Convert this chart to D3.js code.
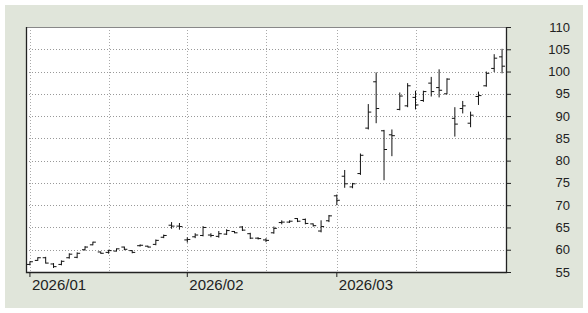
<!DOCTYPE html>
<html>
<head>
<meta charset="utf-8">
<script src="https://cdn.jsdelivr.net/npm/d3@7"></script>
<style>
  body { margin: 0; background: #fff; }
  text { font-family: "Liberation Sans", Arial, sans-serif; fill: #222; }
</style>
</head>
<body>
<svg></svg>
<script>
var WIDTH = 588;
var HEIGHT = 313;

// trading days
var dates = [
  '2026-01-02','2026-01-05','2026-01-06','2026-01-07','2026-01-08','2026-01-09',
  '2026-01-12','2026-01-13','2026-01-14','2026-01-15','2026-01-16',
  '2026-01-20','2026-01-21','2026-01-22','2026-01-23',
  '2026-01-26','2026-01-27','2026-01-28','2026-01-29','2026-01-30',
  '2026-02-02','2026-02-03','2026-02-04','2026-02-05','2026-02-06',
  '2026-02-09','2026-02-10','2026-02-11','2026-02-12','2026-02-13',
  '2026-02-17','2026-02-18','2026-02-19','2026-02-20',
  '2026-02-23','2026-02-24','2026-02-25','2026-02-26','2026-02-27',
  '2026-03-02','2026-03-03','2026-03-04','2026-03-05','2026-03-06',
  '2026-03-09','2026-03-10','2026-03-11','2026-03-12','2026-03-13',
  '2026-03-16','2026-03-17','2026-03-18','2026-03-19','2026-03-20',
  '2026-03-23','2026-03-24','2026-03-25','2026-03-26','2026-03-27',
  '2026-03-30','2026-03-31'
];

var open = [56.7, 57.6, 58.2, 56.8, 56.7, 58.2, 58.3, 60.0, 61.1, 59.5, 59.4, 59.7, 60.6, 59.8, 60.9, 60.8, 61.2, 62.8, 65.5, 65.3,
  62.2, 62.9, 63.2, 63.3, 63.0, 63.5, 64.1, 65.1, 63.6, 62.6, 62.2, 63.8, 66.1, 66.2, 67.0, 66.8, 65.8, 64.2, 66.5,
  72.1, 76.5, 74.1, 77.1, 87.3, 97.7, 86.7, 85.8, 91.5, 92.3, 94.2, 93.5, 97.4, 96.4, 95.0, 89.5, 91.7, 88.4, 94.4, 96.8, 100.7, 103.3];
var high = [57.4, 58.3, 58.4, 57.0, 57.6, 59.2, 59.4, 60.8, 61.8, 59.6, 60.0, 60.3, 60.7, 59.9, 61.2, 60.9, 62.3, 63.4, 66.2, 66.0,
  62.8, 63.7, 65.3, 63.7, 64.2, 64.6, 64.2, 65.3, 63.8, 62.8, 62.6, 65.2, 66.6, 66.6, 67.1, 67.0, 65.9, 66.6, 67.8,
  72.4, 77.9, 75.0, 81.6, 92.7, 99.8, 86.9, 87.0, 95.3, 97.4, 95.7, 95.7, 98.8, 100.5, 98.5, 92.0, 93.4, 91.0, 95.5, 100.0, 103.9, 105.1];
var low = [56.5, 57.5, 56.9, 55.9, 56.5, 58.0, 58.1, 59.8, 61.0, 59.1, 59.1, 59.6, 59.9, 59.2, 60.7, 60.5, 61.0, 62.6, 64.7, 64.5,
  61.6, 62.6, 63.0, 62.8, 62.7, 63.3, 63.7, 64.2, 62.4, 62.3, 61.7, 63.6, 65.7, 66.0, 66.2, 65.7, 65.2, 63.9, 66.2,
  70.0, 73.9, 73.8, 76.8, 87.0, 88.4, 75.6, 81.0, 91.3, 92.0, 91.5, 93.2, 94.4, 94.2, 94.9, 85.4, 90.6, 87.5, 92.5, 96.6, 99.9, 99.6];
var close = [57.3, 58.2, 57.0, 56.2, 57.4, 59.0, 59.2, 60.6, 61.7, 59.2, 59.8, 60.2, 60.1, 59.4, 61.0, 60.6, 62.1, 63.2, 65.3, 65.2,
  62.3, 63.3, 65.0, 63.2, 63.6, 64.3, 63.8, 64.4, 62.6, 62.5, 62.1, 64.8, 66.2, 66.4, 66.4, 65.9, 65.4, 65.2, 67.6,
  71.1, 74.8, 74.8, 81.2, 90.9, 91.7, 82.5, 85.6, 94.5, 96.8, 92.5, 95.5, 95.5, 95.8, 98.3, 88.2, 92.3, 90.2, 94.6, 99.6, 103.0, 101.2];

var monthTicks = ['2026-01-02', '2026-02-02', '2026-03-02'];
var monthLabels = ['2026/01', '2026/02', '2026/03'];
var midTicks = ['2026-01-16', '2026-02-17', '2026-03-16'];
var yTicks = [55, 60, 65, 70, 75, 80, 85, 90, 95, 100, 105, 110];

var pLeft = 26, pRight = 506, pTop = 27, pBottom = 272;

var svg = d3.select('svg')
  .attr('width', WIDTH)
  .attr('height', HEIGHT);

svg.append('rect')
  .attr('x', 5).attr('y', 5)
  .attr('width', WIDTH - 10).attr('height', HEIGHT - 10)
  .attr('fill', '#e0e5da');

svg.append('rect')
  .attr('x', pLeft).attr('y', pTop)
  .attr('width', pRight - pLeft).attr('height', pBottom - pTop)
  .attr('fill', '#fff');

var xScale = d3.scaleBand().domain(dates).range([pLeft, pRight]);
var yScale = d3.scaleLinear().domain([55, 110]).range([pBottom, pTop]);
var cx = function(d){ return xScale(d) + xScale.bandwidth() / 2; };

// grid
svg.append('g').selectAll('line')
  .data(yTicks.slice(1, -1))
  .enter().append('line')
  .attr('x1', pLeft).attr('x2', pRight)
  .attr('y1', function(d){ return Math.round(yScale(d)) + 0.5; })
  .attr('y2', function(d){ return Math.round(yScale(d)) + 0.5; })
  .attr('stroke', '#999')
  .attr('stroke-dasharray', '1,2');

svg.append('g').selectAll('line')
  .data(monthTicks.concat(midTicks))
  .enter().append('line')
  .attr('x1', function(d){ return Math.round(cx(d)) + 0.5; })
  .attr('x2', function(d){ return Math.round(cx(d)) + 0.5; })
  .attr('y1', pTop).attr('y2', pBottom)
  .attr('stroke', '#aaa')
  .attr('stroke-dasharray', '1,2');

// frame
svg.append('line')
  .attr('x1', pLeft).attr('x2', pRight).attr('y1', pTop + 0.5).attr('y2', pTop + 0.5)
  .attr('stroke', '#888');
svg.append('path')
  .attr('d', 'M' + (pLeft + 0.5) + ',' + pTop + 'V' + (pBottom + 0.5) + 'H' + (pRight + 0.5) + 'V' + pTop)
  .attr('fill', 'none')
  .attr('stroke', '#222')
  .attr('stroke-width', 1.3);

// OHLC bars
var idx = d3.range(dates.length);
var bars = svg.append('g').attr('stroke', '#111').attr('stroke-width', 1);

bars.selectAll('.hl').data(idx).enter().append('line')
  .attr('x1', function(i){ return cx(dates[i]); })
  .attr('x2', function(i){ return cx(dates[i]); })
  .attr('y1', function(i){ return yScale(high[i]); })
  .attr('y2', function(i){ return yScale(low[i]); });

bars.selectAll('.op').data(idx).enter().append('line')
  .attr('x1', function(i){ return cx(dates[i]) - 3; })
  .attr('x2', function(i){ return cx(dates[i]); })
  .attr('y1', function(i){ return yScale(open[i]); })
  .attr('y2', function(i){ return yScale(open[i]); });

bars.selectAll('.cl').data(idx).enter().append('line')
  .attr('x1', function(i){ return cx(dates[i]); })
  .attr('x2', function(i){ return cx(dates[i]) + 3; })
  .attr('y1', function(i){ return yScale(close[i]); })
  .attr('y2', function(i){ return yScale(close[i]); });

// right axis
var rightAxis = d3.axisRight(yScale).tickValues(yTicks).tickSize(5).tickFormat('');
var ra = svg.append('g')
  .attr('transform', 'translate(' + pRight + ',0)')
  .call(rightAxis);
ra.select('.domain').remove();
ra.selectAll('line').attr('stroke', '#222');

svg.append('g').selectAll('text')
  .data(yTicks)
  .enter().append('text')
  .attr('x', 570)
  .attr('y', function(d){ return yScale(d); })
  .attr('dy', '0.35em')
  .attr('text-anchor', 'end')
  .style('font-size', '13px')
  .text(function(d){ return d; });

// bottom axis
var bottomAxis = d3.axisBottom(xScale).tickValues(monthTicks).tickSize(5).tickFormat('');
var ba = svg.append('g')
  .attr('transform', 'translate(' + (xScale.bandwidth() / 2 - xScale.bandwidth() / 2) + ',' + pBottom + ')')
  .call(bottomAxis);
ba.select('.domain').remove();
ba.selectAll('line').attr('stroke', '#222');

svg.append('g').selectAll('text')
  .data(monthTicks)
  .enter().append('text')
  .attr('x', function(d){ return cx(d) + 2; })
  .attr('y', 290)
  .style('font-size', '15px')
  .text(function(d, i){ return monthLabels[i]; });
</script>
</body>
</html>
